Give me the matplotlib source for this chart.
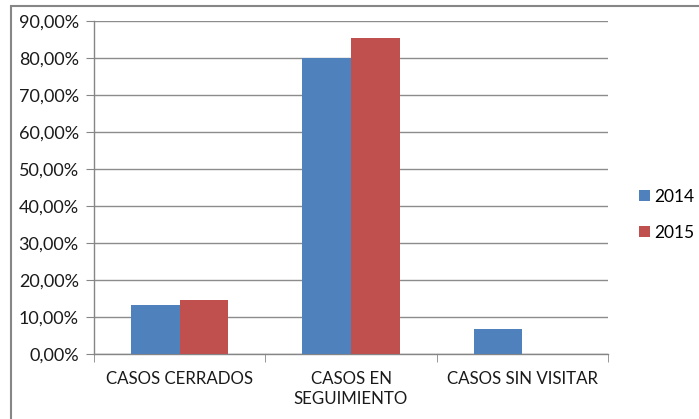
import matplotlib.pyplot as plt
import numpy as np
from matplotlib.patches import Rectangle
from matplotlib.ticker import FuncFormatter

# ---- Data ----------------------------------------------------------------
categories = ["CASOS CERRADOS", "CASOS EN\nSEGUIMIENTO", "CASOS SIN VISITAR"]
series_names = ["2014", "2015"]
values_2014 = [13.3, 80.0, 6.7]
values_2015 = [14.5, 85.5, 0.0]
colors = ["#4F81BD", "#C0504D"]

plt.rcParams["font.family"] = ["Lato", "DejaVu Sans"]

# ---- Figure setup --------------------------------------------------------
fig = plt.figure(figsize=(6.99, 4.19), dpi=100)
ax = fig.add_axes([0.1345, 0.155, 0.7353, 0.794])

x = np.arange(len(categories))
w = 0.284
ax.bar(x - w / 2, values_2014, width=w, color=colors[0], label=series_names[0], zorder=3)
ax.bar(x + w / 2, values_2015, width=w, color=colors[1], label=series_names[1], zorder=3)

ax.set_xlim(-0.5, len(categories) - 0.5)
ax.set_ylim(0, 90)
ax.set_yticks(np.arange(0, 91, 10))
ax.yaxis.set_major_formatter(FuncFormatter(lambda v, p: f"{v:.2f}%".replace(".", ",")))
ax.set_xticks(x)
ax.set_xticklabels(categories, fontsize=12.2, color="#1a1a1a", linespacing=1.3)
ax.tick_params(axis="x", length=0, pad=12)
ax.set_xticks(np.arange(-0.5, len(categories)), minor=True)
ax.tick_params(axis="x", which="minor", length=6, color="#868686", direction="out")
ax.tick_params(axis="y", length=6, color="#868686", labelsize=13, labelcolor="#1a1a1a", pad=5)

ax.grid(True, axis="y", color="#8c8c8c", linewidth=1.0, zorder=0)
for s in ("top", "right"):
    ax.spines[s].set_visible(False)
for s in ("left", "bottom"):
    ax.spines[s].set_color("#868686")
    ax.spines[s].set_linewidth(1.0)

# Chart frame
fig.patches.append(Rectangle((11 / 699, -0.05), 1.1, 1 - 6 / 419 + 0.05,
                             transform=fig.transFigure, fill=False,
                             edgecolor="#868686", linewidth=1.5))

leg = fig.legend(loc="center left", bbox_to_anchor=(0.9136, 0.488), frameon=False,
                 fontsize=12.5, handlelength=0.65, handleheight=0.65,
                 handletextpad=0.25, labelspacing=1.15, borderaxespad=0, borderpad=0)

fig.savefig("out.png", dpi=100)
